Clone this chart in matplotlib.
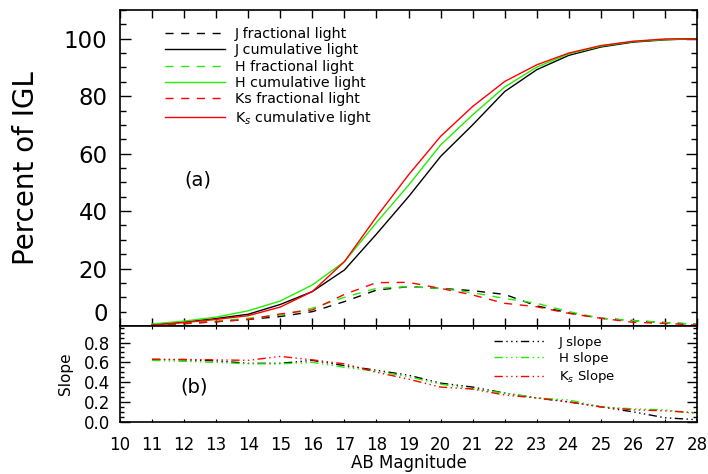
import matplotlib
matplotlib.use("Agg")
from matplotlib import pyplot as plt
from matplotlib.ticker import MultipleLocator

# AB magnitude bins
mag = [11, 12, 13, 14, 15, 16, 17, 18, 19, 20, 21, 22, 23, 24, 25, 26, 27, 28]

# fractional light per bin (percent of IGL)
j_frac = [0.3, 0.8, 1.5, 2.3, 3.3, 5.0, 8.5, 12.5, 13.7, 13.1, 12.3, 11.0, 7.0, 4.6, 2.7, 1.9, 1.2, 0.6]
h_frac = [0.3, 0.9, 1.7, 2.7, 3.8, 6.2, 10.0, 13.1, 13.7, 13.1, 11.6, 9.6, 7.9, 5.0, 2.7, 1.9, 1.2, 0.6]
k_frac = [0.3, 0.9, 1.5, 2.3, 4.2, 5.6, 11.0, 15.1, 15.2, 13.1, 10.8, 7.9, 6.7, 4.4, 2.7, 1.3, 0.9, 0.3]

# cumulative light (percent of IGL)
j_cum = [0.5, 1.4, 2.6, 4.1, 7.5, 12.0, 19.5, 32.0, 45.0, 59.0, 70.0, 81.6, 89.2, 94.2, 97.1, 98.8, 99.6, 100.0]
h_cum = [0.7, 1.7, 3.1, 5.3, 8.7, 14.3, 22.4, 36.0, 49.0, 63.0, 73.5, 83.2, 90.1, 94.7, 97.4, 99.0, 99.7, 100.0]
k_cum = [0.3, 1.2, 2.3, 3.6, 6.6, 12.0, 22.4, 38.0, 52.6, 66.0, 76.4, 85.1, 90.9, 95.0, 97.6, 99.1, 99.9, 100.0]

# number count slopes
j_slope = [0.63, 0.625, 0.615, 0.59, 0.59, 0.62, 0.567, 0.52, 0.47, 0.39, 0.35, 0.29, 0.24, 0.20, 0.15, 0.10, 0.04, 0.02]
h_slope = [0.62, 0.61, 0.60, 0.585, 0.585, 0.60, 0.55, 0.51, 0.455, 0.38, 0.33, 0.29, 0.24, 0.22, 0.15, 0.13, 0.12, 0.08]
k_slope = [0.63, 0.63, 0.625, 0.62, 0.66, 0.625, 0.585, 0.50, 0.43, 0.35, 0.33, 0.27, 0.24, 0.20, 0.15, 0.12, 0.11, 0.09]

GREEN = "#22ee00"
RED = "#ff0000"
dash = (0, (5.8, 5.5))
dash3dot = (0, (6, 2.5, 1, 2.5, 1, 2.5, 1, 2.5))

fig = plt.figure(figsize=(7.08, 4.74), dpi=100)
ax1 = fig.add_axes([0.1695, 0.3122, 0.815, 0.6668])
ax2 = fig.add_axes([0.1695, 0.1103, 0.815, 0.2019], sharex=ax1)

# (a) percent of IGL
ax1.plot(mag, j_frac, color="k", lw=1.0, ls=dash, label="J fractional light")
ax1.plot(mag, j_cum, color="k", lw=1.0, label="J cumulative light")
ax1.plot(mag, h_frac, color=GREEN, lw=1.0, ls=dash, label="H fractional light")
ax1.plot(mag, h_cum, color=GREEN, lw=1.0, label="H cumulative light")
ax1.plot(mag, k_frac, color=RED, lw=1.0, ls=dash, label="Ks fractional light")
ax1.plot(mag, k_cum, color=RED, lw=1.0, label="K$_s$ cumulative light")

ax1.set_xlim(10, 28)
ax1.set_ylim(0, 110)
ax1.yaxis.set_major_locator(MultipleLocator(20))
ax1.yaxis.set_minor_locator(MultipleLocator(5))
ax1.xaxis.set_major_locator(MultipleLocator(5))
ax1.xaxis.set_minor_locator(MultipleLocator(1))
ax1.tick_params(axis="x", which="both", direction="in", top=True, bottom=True, labelbottom=False)
ax1.tick_params(axis="x", which="major", length=6, width=1)
ax1.tick_params(axis="x", which="minor", length=4, width=1)
ax1.tick_params(axis="y", which="both", direction="in", left=True, right=True, labelsize=16.5)
ax1.tick_params(axis="y", which="major", length=8, width=1, pad=9)
ax1.tick_params(axis="y", which="minor", length=4, width=1)
ax1.set_ylabel("Percent of IGL", fontsize=20, labelpad=17)
for lab in ax1.get_yticklabels():
    if lab.get_text() in ("0", "−0", "$\\mathdefault{0}$"):
        lab.set_va("bottom")
ax1.text(12.43, 50.9, "(a)", fontsize=14, ha="center", va="center")
ax1.legend(loc="upper left", bbox_to_anchor=(0.078, 0.947), frameon=False,
           fontsize=10.3, handlelength=4.2, handletextpad=0.7, labelspacing=0.17,
           borderpad=0, borderaxespad=0)

# (b) slopes
ax2.plot(mag, j_slope, color="k", lw=1.0, ls=dash3dot, label="J slope")
ax2.plot(mag, h_slope, color=GREEN, lw=1.0, ls=dash3dot, label="H slope")
ax2.plot(mag, k_slope, color=RED, lw=1.0, ls=dash3dot, label="K$_s$ Slope")
ax2.set_ylim(0, 0.967)
ax2.yaxis.set_major_locator(MultipleLocator(0.2))
ax2.yaxis.set_minor_locator(MultipleLocator(0.05))
ax2.set_xticks(range(10, 29))
ax2.tick_params(axis="x", which="both", direction="in", top=True, bottom=True, length=2.5, labelsize=12, pad=10)
ax2.tick_params(axis="y", which="both", direction="in", left=True, right=True, labelsize=12)
ax2.tick_params(axis="y", which="major", length=7, width=1, pad=7)
ax2.tick_params(axis="y", which="minor", length=3, width=1)
ax2.set_ylabel("Slope", fontsize=11, labelpad=8)
ax2.set_xlabel("AB Magnitude", fontsize=12, labelpad=0)
ax2.text(12.31, 0.35, "(b)", fontsize=14, ha="center", va="center")
ax2.legend(loc="upper left", bbox_to_anchor=(0.648, 0.90), frameon=False,
           fontsize=9.5, handlelength=3.9, handletextpad=1.0, labelspacing=0.25,
           borderpad=0, borderaxespad=0)

for ax in (ax1, ax2):
    for sp in ax.spines.values():
        sp.set_linewidth(1.2)

fig.savefig("out.png", dpi=100)
